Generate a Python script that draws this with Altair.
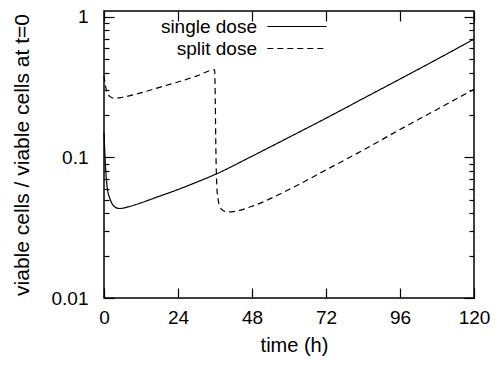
import altair as alt
import pandas as pd

# ---- data ----
series_names = ["single dose", "split dose"]

t_single = [0, 0.5, 1, 2, 3, 4, 5, 6, 8, 12, 16, 20, 24, 30, 36.7, 48, 60, 72, 84, 96, 108, 120]
v_single = [0.150, 0.0855, 0.062, 0.0503, 0.0456, 0.0438, 0.0433, 0.0435, 0.0446, 0.0475,
            0.0511, 0.0549, 0.0591, 0.0666, 0.0768, 0.102, 0.139, 0.190, 0.262, 0.361, 0.499, 0.694]

t_split = [0, 0.5, 1, 2, 3, 4, 6, 12, 18, 24, 30, 35.9, 36.1, 36.3, 36.6, 37, 37.6, 38.6, 40,
           42, 48, 60, 72, 84, 96, 108, 120]
v_split = [0.382, 0.321, 0.290, 0.2705, 0.264, 0.264, 0.268, 0.288, 0.315, 0.344, 0.379, 0.42,
           0.244, 0.109, 0.062, 0.0503, 0.0446, 0.0419, 0.041, 0.0412, 0.0449, 0.0591, 0.0815,
           0.1125, 0.158, 0.2195, 0.305]

x_ticks = [0, 24, 48, 72, 96, 120]
y_major = [0.01, 0.1, 1]
y_minor = [0.02, 0.03, 0.04, 0.05, 0.06, 0.07, 0.08, 0.09,
           0.2, 0.3, 0.4, 0.5, 0.6, 0.7, 0.8, 0.9]

df = pd.concat([
    pd.DataFrame({"t": t_single, "v": v_single, "series": series_names[0]}),
    pd.DataFrame({"t": t_split, "v": v_split, "series": series_names[1]}),
], ignore_index=True)

W, H = 370, 287
FS = 19
xs = alt.Scale(domain=[0, 120], nice=False, zero=False)
ys = alt.Scale(type="log", domain=[0.01, 1.1], nice=False)


def tick_axis(orient, offset, values, size):
    return alt.Axis(orient=orient, offset=offset, values=values, labels=False,
                    domain=False, grid=False, ticks=True, tickSize=size,
                    tickWidth=1.2, tickColor="black", title=None)


main = alt.Chart(df).mark_line(interpolate="monotone", color="black", strokeWidth=1.2).encode(
    x=alt.X("t:Q", scale=xs, axis=alt.Axis(
        orient="bottom", values=x_ticks, ticks=False, tickSize=0, domain=False, grid=False,
        labelFontSize=FS, labelPadding=10, labelColor="black", labelFlush=False,
        title="time (h)", titleFontSize=20, titleFontWeight="normal", titleColor="black",
        titleX=190, titleY=53, titleBaseline="alphabetic")),
    y=alt.Y("v:Q", scale=ys, axis=alt.Axis(
        orient="left", values=y_major, format="~g", ticks=False, tickSize=0, domain=False,
        grid=False, labelFontSize=FS, labelPadding=16, labelColor="black", labelFlush=False,
        title="viable cells / viable cells at t=0", titleFontSize=21, titleFontWeight="normal",
        titleColor="black", titleX=-82, titleBaseline="middle")),
    strokeDash=alt.StrokeDash("series:N",
                              scale=alt.Scale(domain=series_names, range=[[1, 0], [6, 4]]),
                              legend=alt.Legend(orient="none", legendX=24, legendY=6,
                                                title=None, symbolType="M23.6,0H34.4",
                                                symbolSize=121, symbolStrokeWidth=1.2,
                                                symbolStrokeColor="black",
                                                symbolFillColor="transparent",
                                                labelFontSize=FS, labelAlign="right",
                                                labelOffset=110, labelColor="black",
                                                rowPadding=2, padding=0)),
)


def tick_layer(xaxis, yaxis):
    return alt.Chart(df).mark_line(opacity=0).encode(
        x=alt.X("t:Q", scale=xs, axis=xaxis),
        y=alt.Y("v:Q", scale=ys, axis=yaxis),
        detail="series:N",
    )


l2 = tick_layer(tick_axis("top", -H, x_ticks, 10), tick_axis("right", -W, y_major, 10))
l3 = tick_layer(tick_axis("bottom", -H, x_ticks, 10), tick_axis("right", -W, y_minor, 5))
l4 = tick_layer(None, tick_axis("left", -W, y_major, 10))
l5 = tick_layer(None, tick_axis("left", -W, y_minor, 5))

chart = alt.layer(main, l2, l3, l4, l5).resolve_axis(
    x="independent", y="independent"
).properties(
    width=W, height=H,
    autosize=alt.AutoSizeParams(type="none"),
    padding={"left": 96, "top": 3, "right": 18, "bottom": 59},
    background="white",
).configure(font="Liberation Sans").configure_view(stroke="black", strokeWidth=1.5)

chart.save("out.html", embed_options={"renderer": "svg", "actions": False})
